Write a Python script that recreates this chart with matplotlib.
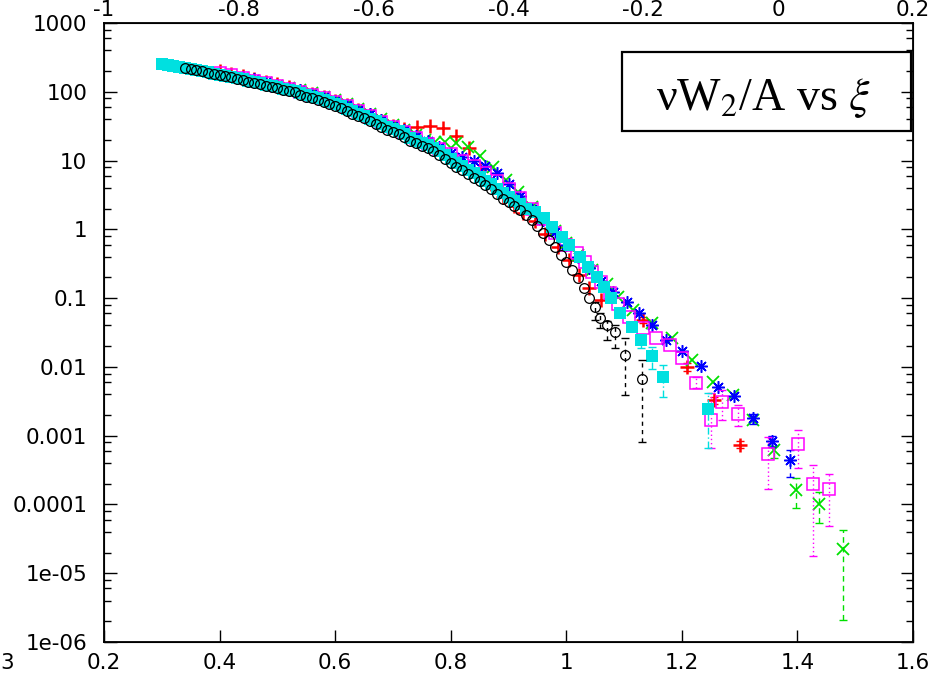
import numpy as np
import matplotlib
matplotlib.use("Agg")
from matplotlib import pyplot as plt
from matplotlib.patches import Rectangle
from matplotlib.ticker import LogLocator, NullFormatter

#%%
# data

# red "+"
red_x = [0.40, 0.42, 0.44, 0.46, 0.48, 0.50, 0.52, 0.54, 0.56, 0.58, 0.60, 0.62, 0.64, 0.66, 0.68, 0.70, 0.72,
         0.742, 0.765, 0.786, 0.81, 0.832, 0.85, 0.87, 0.89, 0.91, 0.925, 0.945, 0.963, 0.985, 1.005, 1.022,
         1.04, 1.06, 1.133, 1.209, 1.255, 1.30]
red_y = [200, 184, 168, 154, 140, 128, 116, 104, 94, 84, 74, 64, 54, 46, 38, 32, 29,
         31, 31.6, 29.5, 23, 15, 7.5, 4.6, 3.0, 2.2, 1.75, 1.3, 0.85, 0.55, 0.36, 0.22,
         0.14, 0.095, 0.048, 0.010, 0.0033, 0.00074]
red_lo = [0.043, 0.0088, 0.0029, 0.00066]
red_hi = [0.053, 0.0113, 0.0037, 0.00083]

# green "x"
green_x = [0.46, 0.48, 0.50, 0.52, 0.54, 0.56, 0.58, 0.60, 0.62, 0.64, 0.66, 0.68, 0.70, 0.72, 0.74, 0.755,
           0.772, 0.79, 0.81, 0.83, 0.85, 0.874, 0.895, 0.916, 0.94, 0.96, 0.98, 1.00, 1.02, 1.045, 1.07,
           1.09, 1.115, 1.148, 1.183, 1.217, 1.254, 1.288, 1.323, 1.36, 1.398, 1.437, 1.479]
green_y = [145, 135, 123, 115, 105, 95, 85, 76, 66, 56, 48, 40, 33, 28, 23.5, 20,
           18.6, 18.6, 18.2, 15.8, 11.5, 8.1, 5.2, 3.5, 2.1, 1.4, 0.95, 0.63, 0.42, 0.26, 0.158,
           0.105, 0.068, 0.043, 0.026, 0.0126, 0.006, 0.0039, 0.0017, 0.00062, 0.000162, 0.0001, 0.0000224]
green_lo = [0.00048, 0.000088, 0.000054, 0.0000021]
green_hi = [0.0007, 0.00024, 0.00015, 0.000043]

# blue "*"
blue_x = [0.44, 0.46, 0.48, 0.50, 0.52, 0.54, 0.56, 0.58, 0.60, 0.62, 0.64, 0.66, 0.68, 0.70, 0.72, 0.74,
          0.76, 0.78, 0.80, 0.82, 0.84, 0.86, 0.88, 0.90, 0.92, 0.94, 0.96, 0.98, 1.00, 1.02, 1.04, 1.06,
          1.08, 1.105, 1.125, 1.148, 1.173, 1.20, 1.233, 1.262, 1.29, 1.323, 1.356, 1.388]
blue_y = [166, 151, 138, 126, 115, 105, 93, 83, 74, 65, 55, 47, 39, 32, 27.5, 23,
          19, 15.5, 12.9, 11.2, 9.8, 8.3, 6.5, 4.6, 3.1, 2.0, 1.38, 0.93, 0.59, 0.40, 0.27, 0.18,
          0.123, 0.087, 0.06, 0.041, 0.0245, 0.017, 0.0102, 0.0051, 0.0038, 0.0018, 0.00083, 0.00045]
blue_lo = [0.0015, 0.00068, 0.00025]
blue_hi = [0.0021, 0.00098, 0.00062]

# magenta open squares
mag_x = [0.40, 0.42, 0.44, 0.46, 0.48, 0.50, 0.52, 0.54, 0.56, 0.58, 0.60, 0.62, 0.64, 0.66, 0.68, 0.70,
         0.72, 0.74, 0.76, 0.78, 0.80, 0.82, 0.84, 0.86, 0.88, 0.90, 0.92, 0.94, 0.96, 0.98, 1.00,
         1.018, 1.032, 1.045, 1.06, 1.075, 1.09, 1.109, 1.132, 1.156, 1.179, 1.201,
         1.225, 1.25, 1.27, 1.298, 1.349, 1.401, 1.427, 1.454]
mag_y = [188, 174, 158, 145, 132, 120, 110, 98, 89, 81, 71, 62, 52, 44, 36, 31,
         26, 21, 17.4, 14.8, 12.3, 10, 8.3, 6.6, 5.0, 3.8, 2.9, 2.0, 1.4, 0.87, 0.60,
         0.46, 0.33, 0.24, 0.17, 0.12, 0.083, 0.054, 0.037, 0.026, 0.021, 0.0135,
         0.0059, 0.0017, 0.0031, 0.0021, 0.00055, 0.00076, 0.0002, 0.00017]
mag_lo = [0.0049, 0.00066, 0.0017, 0.0014, 0.00017, 0.00034, 0.0000178, 0.000048]
mag_hi = [0.0071, 0.0042, 0.0046, 0.0028, 0.00095, 0.0012, 0.00038, 0.00028]

# cyan filled squares
cyan_x = [0.30, 0.31, 0.32, 0.33, 0.34, 0.35, 0.36, 0.37, 0.38, 0.39, 0.40, 0.41, 0.42, 0.43, 0.44, 0.45,
          0.46, 0.47, 0.48, 0.49, 0.50, 0.51, 0.52, 0.53, 0.54, 0.55, 0.56, 0.57, 0.58, 0.59, 0.60, 0.61,
          0.62, 0.63, 0.64, 0.65, 0.66, 0.67, 0.68, 0.69, 0.70, 0.71, 0.72, 0.73, 0.74, 0.75, 0.76, 0.77,
          0.78, 0.79, 0.80, 0.81, 0.82, 0.83, 0.84, 0.85, 0.86, 0.87, 0.88, 0.89, 0.90, 0.91, 0.92, 0.93,
          0.945, 0.962, 0.976, 0.992, 1.005, 1.023, 1.037, 1.054, 1.066, 1.078, 1.093,
          1.114, 1.130, 1.149, 1.168, 1.245]
cyan_y = [251, 243, 234, 226, 220, 215, 208, 201, 192, 184, 178, 170, 164, 157, 151, 144,
          138, 132, 126, 121, 116, 111, 106, 102, 96, 90, 85, 81, 76, 71, 67, 62,
          56, 52, 48, 44, 40, 37, 34, 31, 28.5, 26.5, 24, 21.5, 19.5, 18, 16.6, 15.2,
          13.6, 12.0, 10.5, 9.3, 8.3, 7.3, 6.5, 5.8, 5.1, 4.5, 3.9, 3.4, 3.0, 2.6, 2.3, 2.0,
          1.8, 1.45, 1.07, 0.78, 0.59, 0.40, 0.28, 0.20, 0.145, 0.10, 0.060,
          0.038, 0.0245, 0.0145, 0.0071, 0.00245]
cyan_lo = [0.034, 0.0187, 0.0092, 0.0036, 0.00066]
cyan_hi = [0.042, 0.0275, 0.0196, 0.0107, 0.0042]

# black open circles
black_x = [0.34, 0.35, 0.36, 0.37, 0.38, 0.39, 0.40, 0.41, 0.42, 0.43, 0.44, 0.45, 0.46, 0.47, 0.48, 0.49,
           0.50, 0.51, 0.52, 0.53, 0.54, 0.55, 0.56, 0.57, 0.58, 0.59, 0.60, 0.61, 0.62, 0.63, 0.64, 0.65,
           0.66, 0.67, 0.68, 0.69, 0.70, 0.71, 0.72, 0.73, 0.74, 0.75, 0.76, 0.77, 0.78, 0.79, 0.80, 0.81,
           0.82, 0.83, 0.84, 0.85, 0.86, 0.87, 0.88, 0.89, 0.90, 0.91, 0.92, 0.93, 0.94, 0.95, 0.96, 0.97,
           0.98, 0.99, 1.00, 1.01, 1.02, 1.03, 1.04,
           1.05, 1.058, 1.070, 1.084, 1.101, 1.131]
black_y = [219, 214, 207, 200, 190, 182, 176, 168, 162, 155, 148, 141, 135, 129, 123, 117,
           112, 107, 102, 98, 91, 85, 80, 76, 71, 66, 62, 58, 52, 48, 44, 41,
           37, 34, 31, 28, 26, 24.5, 22, 19.5, 17.8, 16.2, 15.1, 13.8, 12.2, 10.7, 9.3, 8.1,
           7.2, 6.3, 5.6, 5.0, 4.4, 3.8, 3.3, 2.8, 2.5, 2.2, 1.9, 1.6, 1.35, 1.12, 0.89, 0.71,
           0.55, 0.43, 0.34, 0.26, 0.195, 0.14, 0.10,
           0.074, 0.052, 0.041, 0.032, 0.015, 0.0067]
black_lo = [0.048, 0.037, 0.025, 0.019, 0.0039, 0.00081]
black_hi = [0.088, 0.060, 0.047, 0.040, 0.026, 0.0126]

y_ticks = [1000, 100, 10, 1, 0.1, 0.01, 0.001, 0.0001, 1e-05, 1e-06]
y_labels = ['1000', '100', '10', '1', '0.1', '0.01', '0.001', '0.0001', '1e-05', '1e-06']
x_ticks = [0.2, 0.4, 0.6, 0.8, 1.0, 1.2, 1.4, 1.6]
x_labels = ['0.2', '0.4', '0.6', '0.8', '1', '1.2', '1.4', '1.6']
x2_ticks = [-1, -0.8, -0.6, -0.4, -0.2, 0, 0.2]
x2_labels = ['-1', '-0.8', '-0.6', '-0.4', '-0.2', '0', '0.2']

#%%
plt.rcParams['font.family'] = 'DejaVu Sans'
plt.rcParams['mathtext.fontset'] = 'stix'

fig = plt.figure(figsize=(9.3, 6.8), dpi=100)
ax = fig.add_axes([104 / 930, 38 / 680, 809 / 930, 619 / 680])

series = [
    (red_x, red_y, red_lo, red_hi, '#ff0000', dict(marker='+', ms=10, mew=1.8), '-'),
    (green_x, green_y, green_lo, green_hi, '#00e000', dict(marker='x', ms=8, mew=1.3), (0, (4, 3))),
    (blue_x, blue_y, blue_lo, blue_hi, '#0000ff', dict(marker=(8, 2, 0), ms=9, mew=1.1), (0, (3, 3))),
    (mag_x, mag_y, mag_lo, mag_hi, '#ff00ff', dict(marker='s', ms=8, mfc='none', mew=1.1), (0, (1, 2))),
    (cyan_x, cyan_y, cyan_lo, cyan_hi, '#00e0e0', dict(marker='s', ms=8, mew=0), (0, (5, 2, 1, 2))),
    (black_x, black_y, black_lo, black_hi, '#000000', dict(marker='o', ms=7, mfc='none', mew=0.9), (0, (3, 3))),
]

for xs, ys, lo, hi, col, mk, ls in series:
    ax.plot(xs, ys, linestyle='none', color=col, mec=col, **mk)
    n = len(lo)
    tx = np.array(xs[-n:])
    ty = np.array(ys[-n:])
    err = [ty - np.array(lo), np.array(hi) - ty]
    eb = ax.errorbar(tx, ty, yerr=err, fmt='none', ecolor=col, elinewidth=1, capsize=3, capthick=1)
    eb[2][0].set_linestyle(ls)

ax.set_yscale('log')
ax.set_xlim(0.2, 1.6)
ax.set_ylim(1e-06, 1000)
ax.set_xticks(x_ticks)
ax.set_xticklabels(x_labels)
ax.set_yticks(y_ticks)
ax.set_yticklabels(y_labels)
ax.yaxis.set_minor_locator(LogLocator(base=10, subs=(2, 4, 6, 8), numticks=20))
ax.yaxis.set_minor_formatter(NullFormatter())
ax.tick_params(which='major', direction='in', length=9, width=1, top=True, right=True, labelsize=15.5)
ax.tick_params(which='minor', direction='in', length=5, width=1, right=True)
ax.tick_params(axis='y', pad=12)
ax.tick_params(axis='x', pad=8)
for sp in ax.spines.values():
    sp.set_linewidth(1.3)

# top axis with its own labels
ax2 = ax.twiny()
ax2.set_xlim(-1, 0.2)
ax2.set_xticks(x2_ticks)
ax2.set_xticklabels(x2_labels)
ax2.tick_params(axis='x', length=0, labelsize=15.5, pad=2)

# title box
fig.add_artist(Rectangle((622 / 930, 1 - 131 / 680), 289 / 930, 79 / 680, transform=fig.transFigure,
                         fill=False, edgecolor='black', linewidth=1.6))
fig.text(763 / 930, 1 - 110 / 680, r'νW$_2$/A vs $\xi$', ha='center', va='baseline',
         fontsize=33, family=['Liberation Serif', 'DejaVu Serif'])

# partly shown label at far left edge
fig.text(0, 1 - 663 / 680, '3', ha='left', va='center', fontsize=15.5)

fig.savefig('out.png', dpi=100)
